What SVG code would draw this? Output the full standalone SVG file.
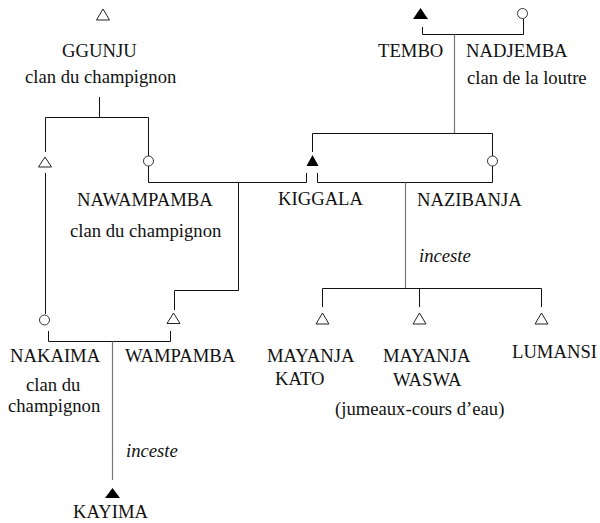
<svg xmlns="http://www.w3.org/2000/svg" width="600" height="523" viewBox="0 0 600 523">
<style>
.t{font-family:"Liberation Serif","Times New Roman",serif;font-size:18.67px;fill:#111}
.i{font-style:italic}
.m{fill:#fff;stroke:#222;stroke-width:1}
.f{fill:#000;stroke:none}
.w{fill:#fff;stroke:#333;stroke-width:1}
#links path{fill:none;stroke:#111;stroke-width:1}
#links path.g{stroke:#777;stroke-width:1.2}
</style>
<rect width="600" height="523" fill="#fff"/>
<g id="links">
<path d="M45.5 152V117.5H148.5V156M99.5 97V117.5"/>
<path d="M45.5 173V314"/>
<path d="M148.5 166V182.5H306.5V173"/>
<path d="M238.5 182.5V290.5H174.5V310"/>
<path d="M48.5 331V341.5H170.5V331"/>
<path class="g" d="M112.5 341.5V480"/>
<path d="M422.5 27V34.5H523.5V19"/>
<path class="g" d="M454.5 34.5V133.5"/>
<path d="M312.5 152V133.5H492.5V156"/>
<path d="M317.5 173V182.5H492.5V166"/>
<path class="g" d="M405.5 182.5V288.5"/>
<path d="M322.5 307V288.5H541.5V307M419.5 288.5V307"/>
</g>
<g id="ggunju"><polygon class="m" points="103,9 109.5,20 96.5,20"/><text class="t" x="62" y="57">GGUNJU</text><text class="t" x="25" y="83">clan du champignon</text></g>
<g id="tembo"><polygon class="f" points="420.5,8 428,19 413,19"/><text class="t" x="378" y="57">TEMBO</text></g>
<g id="nadjemba"><circle class="w" cx="522.5" cy="13.5" r="5"/><text class="t" x="466" y="57">NADJEMBA</text><text class="t" x="467" y="84">clan de la loutre</text></g>
<g id="son1"><polygon class="m" points="45,157 51.5,167 38.5,167"/></g>
<g id="nawampamba"><circle class="w" cx="148.5" cy="161" r="5"/><text class="t" x="77" y="206">NAWAMPAMBA</text><text class="t" x="70" y="237">clan du champignon</text></g>
<g id="kiggala"><polygon class="f" points="312.5,155 318.5,166 306.5,166"/><text class="t" x="278" y="205">KIGGALA</text></g>
<g id="nazibanja"><circle class="w" cx="492.5" cy="161" r="5"/><text class="t" x="417" y="206">NAZIBANJA</text></g>
<text class="t i" x="419" y="262">inceste</text>
<g id="nakaima"><circle class="w" cx="44.5" cy="320" r="5"/><text class="t" x="10" y="362">NAKAIMA</text><text class="t" x="26" y="391">clan du</text><text class="t" x="8" y="412">champignon</text></g>
<g id="wampamba"><polygon class="m" points="173.5,313 180,323.5 167,323.5"/><text class="t" x="125" y="362">WAMPAMBA</text></g>
<g id="kato"><polygon class="m" points="322.5,313 329,324 316,324"/><text class="t" x="267" y="362">MAYANJA</text><text class="t" x="275" y="385">KATO</text></g>
<g id="waswa"><polygon class="m" points="419.5,313 426,324 413,324"/><text class="t" x="383" y="362">MAYANJA</text><text class="t" x="393" y="386">WASWA</text></g>
<g id="lumansi"><polygon class="m" points="541.5,313 548,324 535,324"/><text class="t" x="512" y="358">LUMANSI</text></g>
<text class="t" x="335" y="415">(jumeaux-cours d’eau)</text>
<text class="t i" x="126" y="457">inceste</text>
<g id="kayima"><polygon class="f" points="112.5,488 120,498 105,498"/><text class="t" x="73" y="518">KAYIMA</text></g>
</svg>
